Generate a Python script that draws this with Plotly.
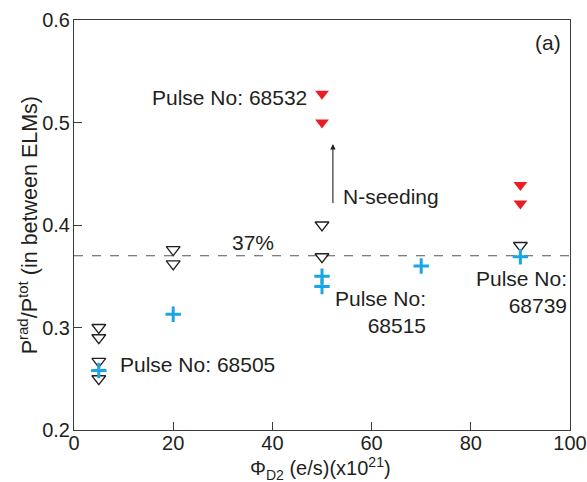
import plotly.graph_objects as go

# Open triangles (no seeding)
open_x = [5, 5, 5, 5, 20, 20, 50, 50, 90]
open_y = [0.300, 0.290, 0.267, 0.250, 0.376, 0.362, 0.400, 0.369, 0.380]
# Filled red triangles (N-seeding)
red_x = [50, 50, 90, 90]
red_y = [0.528, 0.500, 0.439, 0.421]
# Blue crosses
cross_x = [5, 20, 50, 50, 70, 90]
cross_y = [0.258, 0.313, 0.350, 0.340, 0.360, 0.369]

threshold = 0.37
x_ticks = [0, 20, 40, 60, 80, 100]
y_ticks = [0.2, 0.3, 0.4, 0.5, 0.6]

FONT = "Liberation Sans, Arial, Helvetica, sans-serif"
TXT = "#231f20"

fig = go.Figure()

fig.add_trace(go.Scatter(
    x=open_x, y=open_y, mode="markers",
    marker=dict(symbol="triangle-down-open", size=12, color=TXT, line=dict(width=1.3, color=TXT)),
    showlegend=False, cliponaxis=False))
fig.add_trace(go.Scatter(
    x=red_x, y=red_y, mode="markers",
    marker=dict(symbol="triangle-down", size=12, color="#ec1c24", line=dict(width=0)),
    showlegend=False))
fig.add_trace(go.Scatter(
    x=cross_x, y=cross_y, mode="markers",
    marker=dict(symbol="cross-thin-open", size=11, color="#1aa6e4", line=dict(width=3, color="#1aa6e4")),
    showlegend=False, cliponaxis=False))

fig.add_shape(type="line", xref="x", yref="y", x0=0, x1=100, y0=threshold, y1=threshold,
              line=dict(color="#555555", width=1.2, dash="dash"), layer="below")

ann_font = dict(family=FONT, size=21, color=TXT)
annotations = [
    dict(x=36, y=0.383, text="37%", xanchor="center", yanchor="middle"),
    dict(x=47.3, y=0.524, text="Pulse No: 68532", xanchor="right", yanchor="middle"),
    dict(x=53.8, y=0.428, text="N-seeding", xanchor="left", yanchor="middle"),
    dict(x=8.9, y=0.264, text="Pulse No: 68505", xanchor="left", yanchor="middle"),
    dict(x=71.3, y=0.3155, text="Pulse No:<br>68515", xanchor="right", yanchor="middle", align="right"),
    dict(x=99.8, y=0.335, text="Pulse No:<br>68739", xanchor="right", yanchor="middle", align="right"),
    dict(x=98.6, y=0.578, text="(a)", xanchor="right", yanchor="middle"),
]
for a in annotations:
    fig.add_annotation(xref="x", yref="y", showarrow=False, font=ann_font, **a)

fig.add_annotation(xref="x", yref="y", axref="x", ayref="y",
                   x=52.2, y=0.479, ax=52.2, ay=0.42, text="",
                   showarrow=True, arrowhead=2, arrowsize=1, arrowwidth=1.1, arrowcolor=TXT,
                   standoff=0, startstandoff=0)

# Axis titles placed as paper annotations
fig.add_annotation(xref="paper", yref="paper", x=-0.092, y=0.5, textangle=-90,
                   text="P<sup>rad</sup>/P<sup>tot</sup> (in between ELMs)", showarrow=False,
                   xanchor="center", yanchor="middle", font=dict(family=FONT, size=21.5, color=TXT))
fig.add_annotation(xref="paper", yref="paper", x=0.496, y=-0.094,
                   text="Φ<sub>D2</sub> (e/s)(x10<sup>21</sup>)", showarrow=False,
                   xanchor="center", yanchor="middle", font=dict(family=FONT, size=20, color=TXT))

axis_common = dict(showline=True, linecolor="#3a3a3a", linewidth=1, mirror=True,
                   ticks="inside", ticklen=8, tickwidth=1, tickcolor="#3a3a3a",
                   showgrid=False, zeroline=False, automargin=False,
                   tickfont=dict(family=FONT, size=20, color=TXT))

fig.update_xaxes(range=[0, 100], tickvals=x_ticks, ticktext=[str(v) for v in x_ticks],
                 ticklabelstandoff=-5, **axis_common)
fig.update_yaxes(range=[0.2, 0.6], tickvals=y_ticks, ticktext=[f"{v:.1f}" for v in y_ticks],
                 ticklabelstandoff=-1, **axis_common)

fig.update_layout(width=587, height=482, margin=dict(l=74, r=17, t=20, b=52, autoexpand=False),
                  paper_bgcolor="white", plot_bgcolor="white",
                  font=dict(family=FONT, color=TXT))

fig.write_html("out.html", config={"displayModeBar": False},
               post_script="document.body.style.margin='0';document.body.style.overflow='hidden';")
